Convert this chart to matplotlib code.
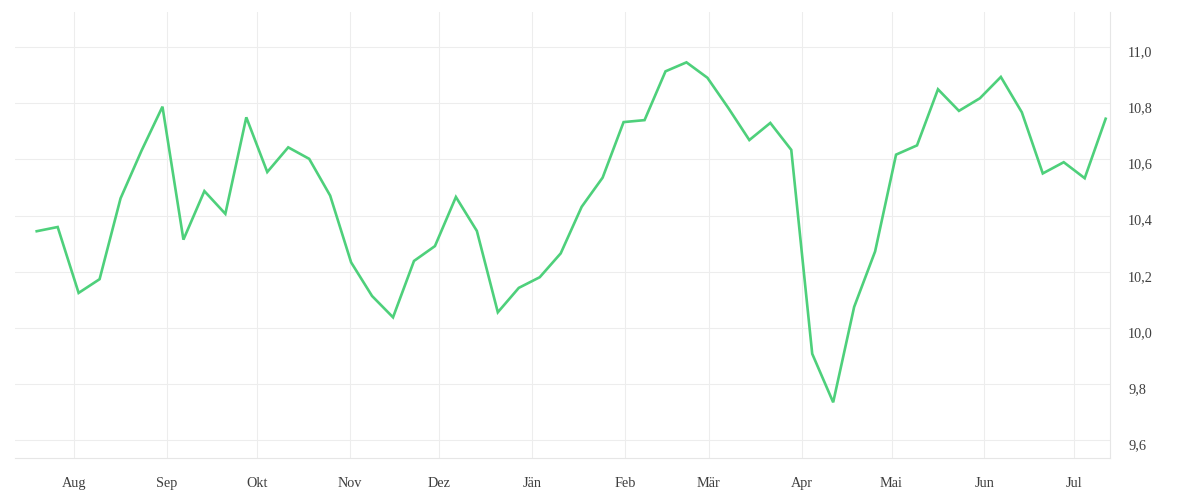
import pandas as pd
import matplotlib
matplotlib.use("Agg")
import matplotlib.pyplot as plt
import matplotlib.dates as mdates
import matplotlib.transforms as mtransforms
from matplotlib.ticker import FuncFormatter, FixedLocator

# weekly values
start = "2022-07-19 12:00"
values = [
    10.344, 10.359, 10.124, 10.173, 10.461, 10.631, 10.788, 10.314, 10.487, 10.406,
    10.750, 10.555, 10.643, 10.602, 10.471, 10.233, 10.113, 10.037, 10.238, 10.291,
    10.466, 10.345, 10.055, 10.142, 10.180, 10.265, 10.431, 10.535, 10.733, 10.740,
    10.914, 10.946, 10.891, 10.783, 10.669, 10.730, 10.634, 9.907, 9.734, 10.074,
    10.272, 10.617, 10.650, 10.850, 10.773, 10.818, 10.894, 10.768, 10.550, 10.590,
    10.533, 10.745,
]
month_starts = pd.date_range("2022-08-01", "2023-07-01", freq="MS")
month_labels = ["Aug", "Sep", "Okt", "Nov", "Dez", "Jän", "Feb", "Mär", "Apr", "Mai", "Jun", "Jul"]
y_ticks = [9.6, 9.8, 10.0, 10.2, 10.4, 10.6, 10.8, 11.0]

dates = pd.date_range(start, periods=len(values), freq="7D")

plt.rcParams["font.family"] = ["Liberation Serif", "DejaVu Serif"]

fig = plt.figure(figsize=(12, 5), dpi=100)
ax = fig.add_axes([0.0125, 0.084, 0.9125, 0.892])

ax.plot(dates, values, color="#4ed07b", linewidth=1.9, solid_joinstyle="miter")

ax.set_xlim(dates[0] - pd.Timedelta(days=7.25), dates[-1] + pd.Timedelta(days=1.45))
ax.set_ylim(9.5355, 11.1255)

ax.xaxis.set_major_locator(FixedLocator(mdates.date2num(month_starts)))
ax.set_xticklabels(month_labels)
ax.yaxis.tick_right()
ax.set_yticks(y_ticks)
ax.yaxis.set_major_formatter(FuncFormatter(lambda v, p: f"{v:.1f}".replace(".", ",")))

ax.tick_params(axis="both", length=0, labelsize=10.3, labelcolor="#3f3f3f")
ax.tick_params(axis="x", pad=14)
ax.tick_params(axis="y", pad=13)

# the value labels sit a little below their grid lines
shift = mtransforms.ScaledTranslation(0, -3 / 72, fig.dpi_scale_trans)
for lab in ax.get_yticklabels():
    lab.set_transform(lab.get_transform() + shift)

ax.grid(True, color="#ededed", linewidth=0.8)
ax.set_axisbelow(True)
for side in ["left", "top"]:
    ax.spines[side].set_visible(False)
for side in ["right", "bottom"]:
    ax.spines[side].set_color("#e6e6e6")
    ax.spines[side].set_linewidth(0.8)

fig.savefig("out.png", dpi=100, facecolor="white")
